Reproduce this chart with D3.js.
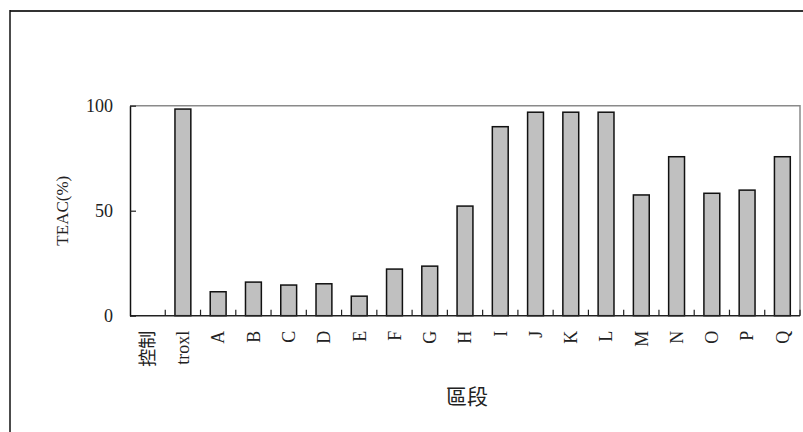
<!DOCTYPE html>
<html>
<head>
<meta charset="utf-8">
<script src="https://cdn.jsdelivr.net/npm/d3@7"></script>
<style>
  html, body { margin: 0; padding: 0; background: #fff; }
  svg { display: block; }
  text { font-family: "Liberation Serif", "Noto Sans CJK TC", serif; fill: #222; }
</style>
</head>
<body>
<svg id="chart" width="803" height="432"></svg>
<script>
const categories = ["控制", "troxl", "A", "B", "C", "D", "E", "F", "G", "H", "I", "J", "K", "L", "M", "N", "O", "P", "Q"];
const values = [0, 98.4, 11.4, 16.0, 14.6, 15.2, 9.3, 22.2, 23.6, 52.2, 90.0, 96.9, 96.9, 96.9, 57.5, 75.7, 58.3, 59.8, 75.7];
const yTicks = [0, 50, 100];
const yTitle = "TEAC(%)";
const xTitle = "區段";

const svg = d3.select("#chart");
const pLeft = 130, pRight = 800, pTop = 105.7, pBottom = 315.7;

// outer frame
svg.append("line").attr("x1", 10).attr("x2", 803).attr("y1", 11).attr("y2", 11)
  .attr("stroke", "#333").attr("stroke-width", 2);
svg.append("line").attr("x1", 10).attr("x2", 10).attr("y1", 10).attr("y2", 432)
  .attr("stroke", "#111").attr("stroke-width", 1.5);

const x = d3.scaleBand().domain(categories).range([pLeft, pRight])
  .paddingInner(0.55).paddingOuter(0.275);
const y = d3.scaleLinear().domain([0, 100]).range([pBottom, pTop]);

// plot area border (top & right gray)
svg.append("path")
  .attr("d", `M${pLeft},${pTop}H${pRight}V${pBottom}`)
  .attr("fill", "none").attr("stroke", "#8a8a8a").attr("stroke-width", 1.5);

// bars
svg.append("g").selectAll("rect")
  .data(categories.map((c, i) => ({c, v: values[i]})).filter(d => d.v > 0))
  .join("rect")
  .attr("x", d => x(d.c))
  .attr("y", d => y(d.v))
  .attr("width", x.bandwidth())
  .attr("height", d => y(0) - y(d.v))
  .attr("fill", "#c0c0c0")
  .attr("stroke", "#111")
  .attr("stroke-width", 1.5);

// x axis baseline and ticks between categories
const step = x.step();
const xg = svg.append("g").attr("transform", `translate(0,${pBottom})`);
xg.append("line").attr("x1", pLeft).attr("x2", pRight).attr("y1", 0).attr("y2", 0)
  .attr("stroke", "#222").attr("stroke-width", 1.5);
xg.selectAll("line.tk").data(d3.range(1, categories.length + 1))
  .join("line").attr("class", "tk")
  .attr("x1", i => pLeft + i * step).attr("x2", i => pLeft + i * step)
  .attr("y1", 0).attr("y2", -6)
  .attr("stroke", "#222").attr("stroke-width", 1.2);

// x labels (rotated)
const xAxis = d3.axisBottom(x).tickSize(0).tickPadding(0);
const xa = svg.append("g").attr("transform", `translate(0,${pBottom})`).call(xAxis);
xa.select(".domain").remove();
xa.selectAll("text")
  .attr("transform", "rotate(-90)")
  .attr("text-anchor", "end")
  .attr("x", -15)
  .attr("y", 0)
  .attr("dy", "0.35em")
  .style("font-size", "18px")
  .style("font-family", "'Liberation Serif', 'Noto Sans CJK TC', serif")
  .attr("fill", "#222");

// y axis
const yAxis = d3.axisLeft(y).tickValues(yTicks).tickSizeInner(-6).tickSizeOuter(0).tickPadding(17);
const ya = svg.append("g").attr("transform", `translate(${pLeft},0)`).call(yAxis);
ya.select(".domain").attr("stroke", "#111").attr("stroke-width", 1.5);
ya.selectAll(".tick line").attr("stroke", "#222").attr("stroke-width", 1.2);
ya.selectAll("text").style("font-size", "18px").attr("fill", "#222")
  .style("font-family", "'Liberation Serif', serif");

// titles
svg.append("text")
  .attr("transform", `translate(68,${(pTop + pBottom) / 2}) rotate(-90)`)
  .attr("text-anchor", "middle")
  .style("font-size", "17px")
  .text(yTitle);

svg.append("text")
  .attr("x", 467).attr("y", 404)
  .attr("text-anchor", "middle")
  .style("font-size", "21px")
  .style("font-family", "'Noto Sans CJK TC', sans-serif")
  .text(xTitle);
</script>
</body>
</html>
